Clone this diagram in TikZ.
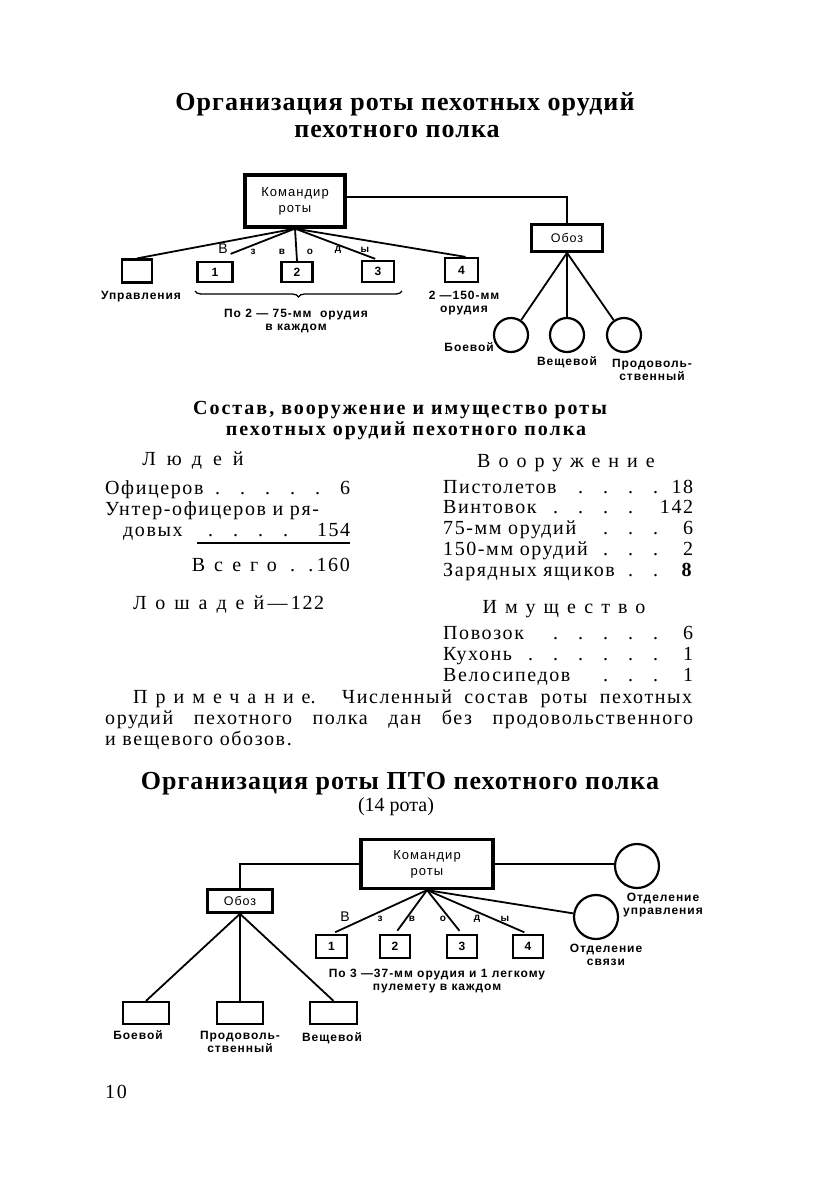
\documentclass[tikz,border=0pt]{standalone}
\usepackage{fontspec}
\setmainfont{Liberation Serif}
\newfontfamily\dsans[LetterSpace=8]{Liberation Sans}
\usetikzlibrary{decorations.pathreplacing}
\newcommand\lead{\leaders\hbox to 25pt{\hss.\hss}\hfill}
\newcommand\spc[2]{{\addfontfeature{LetterSpace=#1}#2}}
\begin{document}
\begin{tikzpicture}[x=1pt,y=-1pt,
  lbl/.style={font=\dsans\bfseries\fontsize{12}{13.5}\selectfont, inner sep=0pt, align=center},
  vz/.style={font=\dsans\bfseries\fontsize{10}{11}\selectfont, inner sep=0pt},
  vzb/.style={font=\dsans\fontsize{14}{15}\selectfont, inner sep=0pt},
  body/.style={font=\fontsize{20}{21}\selectfont\addfontfeature{LetterSpace=8}, inner sep=0pt, anchor=base west},
  head/.style={font=\fontsize{20}{21}\selectfont, inner sep=0pt, anchor=base},
  subt/.style={font=\bfseries\fontsize{20}{21}\selectfont\addfontfeature{LetterSpace=10}, inner sep=0pt, anchor=base},
  ttl/.style={font=\bfseries\fontsize{26}{28}\selectfont\addfontfeature{LetterSpace=4}, inner sep=0pt, anchor=base},
  cbox/.style={draw, line width=3.2pt, inner sep=0pt, font=\dsans\fontsize{13}{16}\selectfont, align=center},
  obox/.style={draw, line width=2.6pt, inner sep=0pt, font=\dsans\fontsize{12.5}{14}\selectfont},
  sbox/.style={draw, line width=2.2pt, inner sep=0pt, font=\dsans\bfseries\fontsize{12}{13}\selectfont},
  circ/.style={draw, circle, line width=2.2pt, inner sep=0pt},
  conn/.style={line width=1.8pt},
  ]
\useasboundingbox (0,0) rectangle (840,1191);

% ---------- Title 1
\node[ttl] (t1a) at (405,110) {Организация роты пехотных орудий};
\node[ttl] (t1b) at (397,137) {пехотного полка};

% ---------- Diagram 1
\node[cbox, minimum width=100, minimum height=52] (cmd1) at (295,201) {Командир\\роты};
\node[obox, minimum width=71, minimum height=27] (oboz1) at (567,238) {Обоз};
\node[circ, minimum size=34] (c1) at (511,335) {};
\node[circ, minimum size=34] (c2) at (567,335) {};
\node[circ, minimum size=34] (c3) at (624,335) {};
\node[sbox, minimum width=30, minimum height=23] (upr) at (137,271) {};
\node[sbox, minimum width=35, minimum height=20] (b1) at (215,272) {1};
\node[sbox, minimum width=31, minimum height=20] (b2) at (297,272) {2};
\node[sbox, minimum width=32, minimum height=21] (b3) at (378,271.5) {3};
\node[sbox, minimum width=33, minimum height=24] (b4) at (461.5,270) {4};
\coordinate (b1t) at ([xshift=-3pt,yshift=7pt]b1.north east);
\coordinate (b4t) at ([xshift=4pt]b4.north);

\draw[conn] ([yshift=4pt]cmd1.east) -| (oboz1.north);
\draw[conn] (oboz1.south) -- (c1);
\draw[conn] (oboz1.south) -- (c2);
\draw[conn] (oboz1.south) -- (c3);
\draw[conn] (cmd1.south) -- (upr.north);
\draw[conn] (cmd1.south) -- (b1t);
\draw[conn] (cmd1.south) -- (b2.north);
\draw[conn, shorten >=3pt] (cmd1.south) -- (b3.north);
\draw[conn] (cmd1.south) -- (b4t);

\node[vzb] (v1) at (223,249) {В};
\node[vz] (v2) at (253,252) {з};
\node[vz] (v3) at (282,252) {в};
\node[vz] (v4) at (310,252) {о};
\node[vz] (v5) at (338,250) {д};
\node[vz] (v6) at (365,250) {ы};

\node[lbl] (lupr) at (141,297) {Управления};
\draw[line width=1.3pt, decorate, decoration={brace, mirror, amplitude=6pt}] (195,291) -- (402,291);
\node[lbl] (l13) at (296,321) {По 2 — 75-мм\ \ орудия\\в каждом};
\node[lbl] (l4) at (464,303) {2 —150-мм\\орудия};
\node[lbl, anchor=east] (lb) at (494,347) {Боевой};
\node[lbl] (lv) at (567,362) {Вещевой};
\node[lbl] (lp) at (652,370) {Продоволь-\\ственный};

% ---------- Table
\node[subt] (s1) at (400,414) {Состав, вооружение и имущество роты};
\node[subt] (s2) at (406,435) {пехотных орудий пехотного полка};

\node[head] (hl) at (193,465) {\spc{55}{Людей}};
\node[head] (hv) at (566,467) {\spc{40}{Вооружение}};

\node[body] (r1) at (105,494) {\makebox[245pt][l]{Офицеров\lead 6}};
\node[body] (r2) at (105,515) {Унтер-офицеров и ря-};
\node[body] (r3) at (123,536) {\makebox[227pt][l]{довых\lead 154}};
\draw[line width=1.6pt] (197,543) -- (350,543);
\node[body, anchor=base east] (r4) at (350,571) {\spc{45}{Всего}\ \ .\ \ .\,160};
\node[body] (r5) at (133,609) {\spc{45}{Лошадей}\,—\,122};

\node[body] (q1) at (443,493) {\makebox[250pt][l]{Пистолетов\lead 18}};
\node[body] (q2) at (443,513) {\makebox[250pt][l]{Винтовок\lead 142}};
\node[body] (q3) at (443,534) {\makebox[250pt][l]{75-мм орудий\lead 6}};
\node[body] (q4) at (443,555) {\makebox[250pt][l]{150-мм орудий\lead 2}};
\node[body] (q5) at (443,576) {\makebox[250pt][l]{Зарядных ящиков\lead \textbf{8}}};
\node[head] (hi) at (564,613) {\spc{40}{Имущество}};
\node[body] (q6) at (443,639) {\makebox[250pt][l]{Повозок\lead 6}};
\node[body] (q7) at (443,660) {\makebox[250pt][l]{Кухонь\lead 1}};
\node[body] (q8) at (443,681) {\makebox[250pt][l]{Велосипедов\lead 1}};

\node[body] (n1) at (133,703) {\makebox[559pt][s]{\spc{40}{Примечание}. Численный состав роты пехотных}};
\node[body] (n2) at (105,724) {\makebox[588pt][s]{орудий пехотного полка дан без продовольственного}};
\node[body] (n3) at (105,745) {и вещевого обозов.};

% ---------- Title 2
\node[ttl] (t2a) at (400,789) {Организация роты ПТО пехотного полка};
\node[head] (t2b) at (396,811) {(14 рота)};

% ---------- Diagram 2
\node[cbox, minimum width=132, minimum height=49] (cmd2) at (427,864) {Командир\\роты};
\node[circ, minimum size=44] (ou) at (637,866) {};
\node[circ, minimum size=44] (os) at (596,917) {};
\node[obox, minimum width=65, minimum height=23] (oboz2) at (240,901) {Обоз};
\node[sbox, minimum width=46, minimum height=22] (x1) at (146,1013) {};
\node[sbox, minimum width=46, minimum height=22] (x2) at (240,1013) {};
\node[sbox, minimum width=47, minimum height=22] (x3) at (333.5,1013) {};
\node[sbox, minimum width=31, minimum height=23] (p1) at (331.5,946.5) {1};
\node[sbox, minimum width=30, minimum height=23] (p2) at (395,946.5) {2};
\node[sbox, minimum width=30, minimum height=23] (p3) at (462,946.5) {3};
\node[sbox, minimum width=30, minimum height=23] (p4) at (528,946.5) {4};

\draw[conn] (cmd2.east) -- (cmd2.east -| ou.west);
\draw[conn] (cmd2.south) -- (os);
\draw[conn] (cmd2.west) -| (oboz2.north);
\draw[conn] (oboz2.south) -- (x1.north);
\draw[conn] (oboz2.south) -- (x2.north);
\draw[conn] (oboz2.south) -- (x3.north);
\draw[conn, shorten >=4pt] (cmd2.south) -- (p1.north);
\draw[conn, shorten >=4pt] (cmd2.south) -- (p2.north);
\draw[conn, shorten >=4pt] (cmd2.south) -- (p3.north);
\draw[conn, shorten >=4pt] (cmd2.south) -- (p4.north);

\node[vzb] (w1) at (345,917) {В};
\node[vz] (w2) at (380,919) {з};
\node[vz] (w3) at (412,919) {в};
\node[vz] (w4) at (443,919) {о};
\node[vz] (w5) at (477,919) {д};
\node[vz] (w6) at (505,919) {ы};

\node[lbl] (lou) at (663,905) {Отделение\\управления};
\node[lbl] (los) at (606,955) {Отделение\\связи};
\node[lbl] (lp1) at (437,981) {По 3 —37-мм орудия и 1 легкому\\пулемету в каждом};
\node[lbl] (lx1) at (138,1035) {Боевой};
\node[lbl] (lx2) at (240,1042) {Продоволь-\\ственный};
\node[lbl] (lx3) at (332,1038) {Вещевой};

\node[body] (pg) at (105,1098) {10};
\end{tikzpicture}
\end{document}
